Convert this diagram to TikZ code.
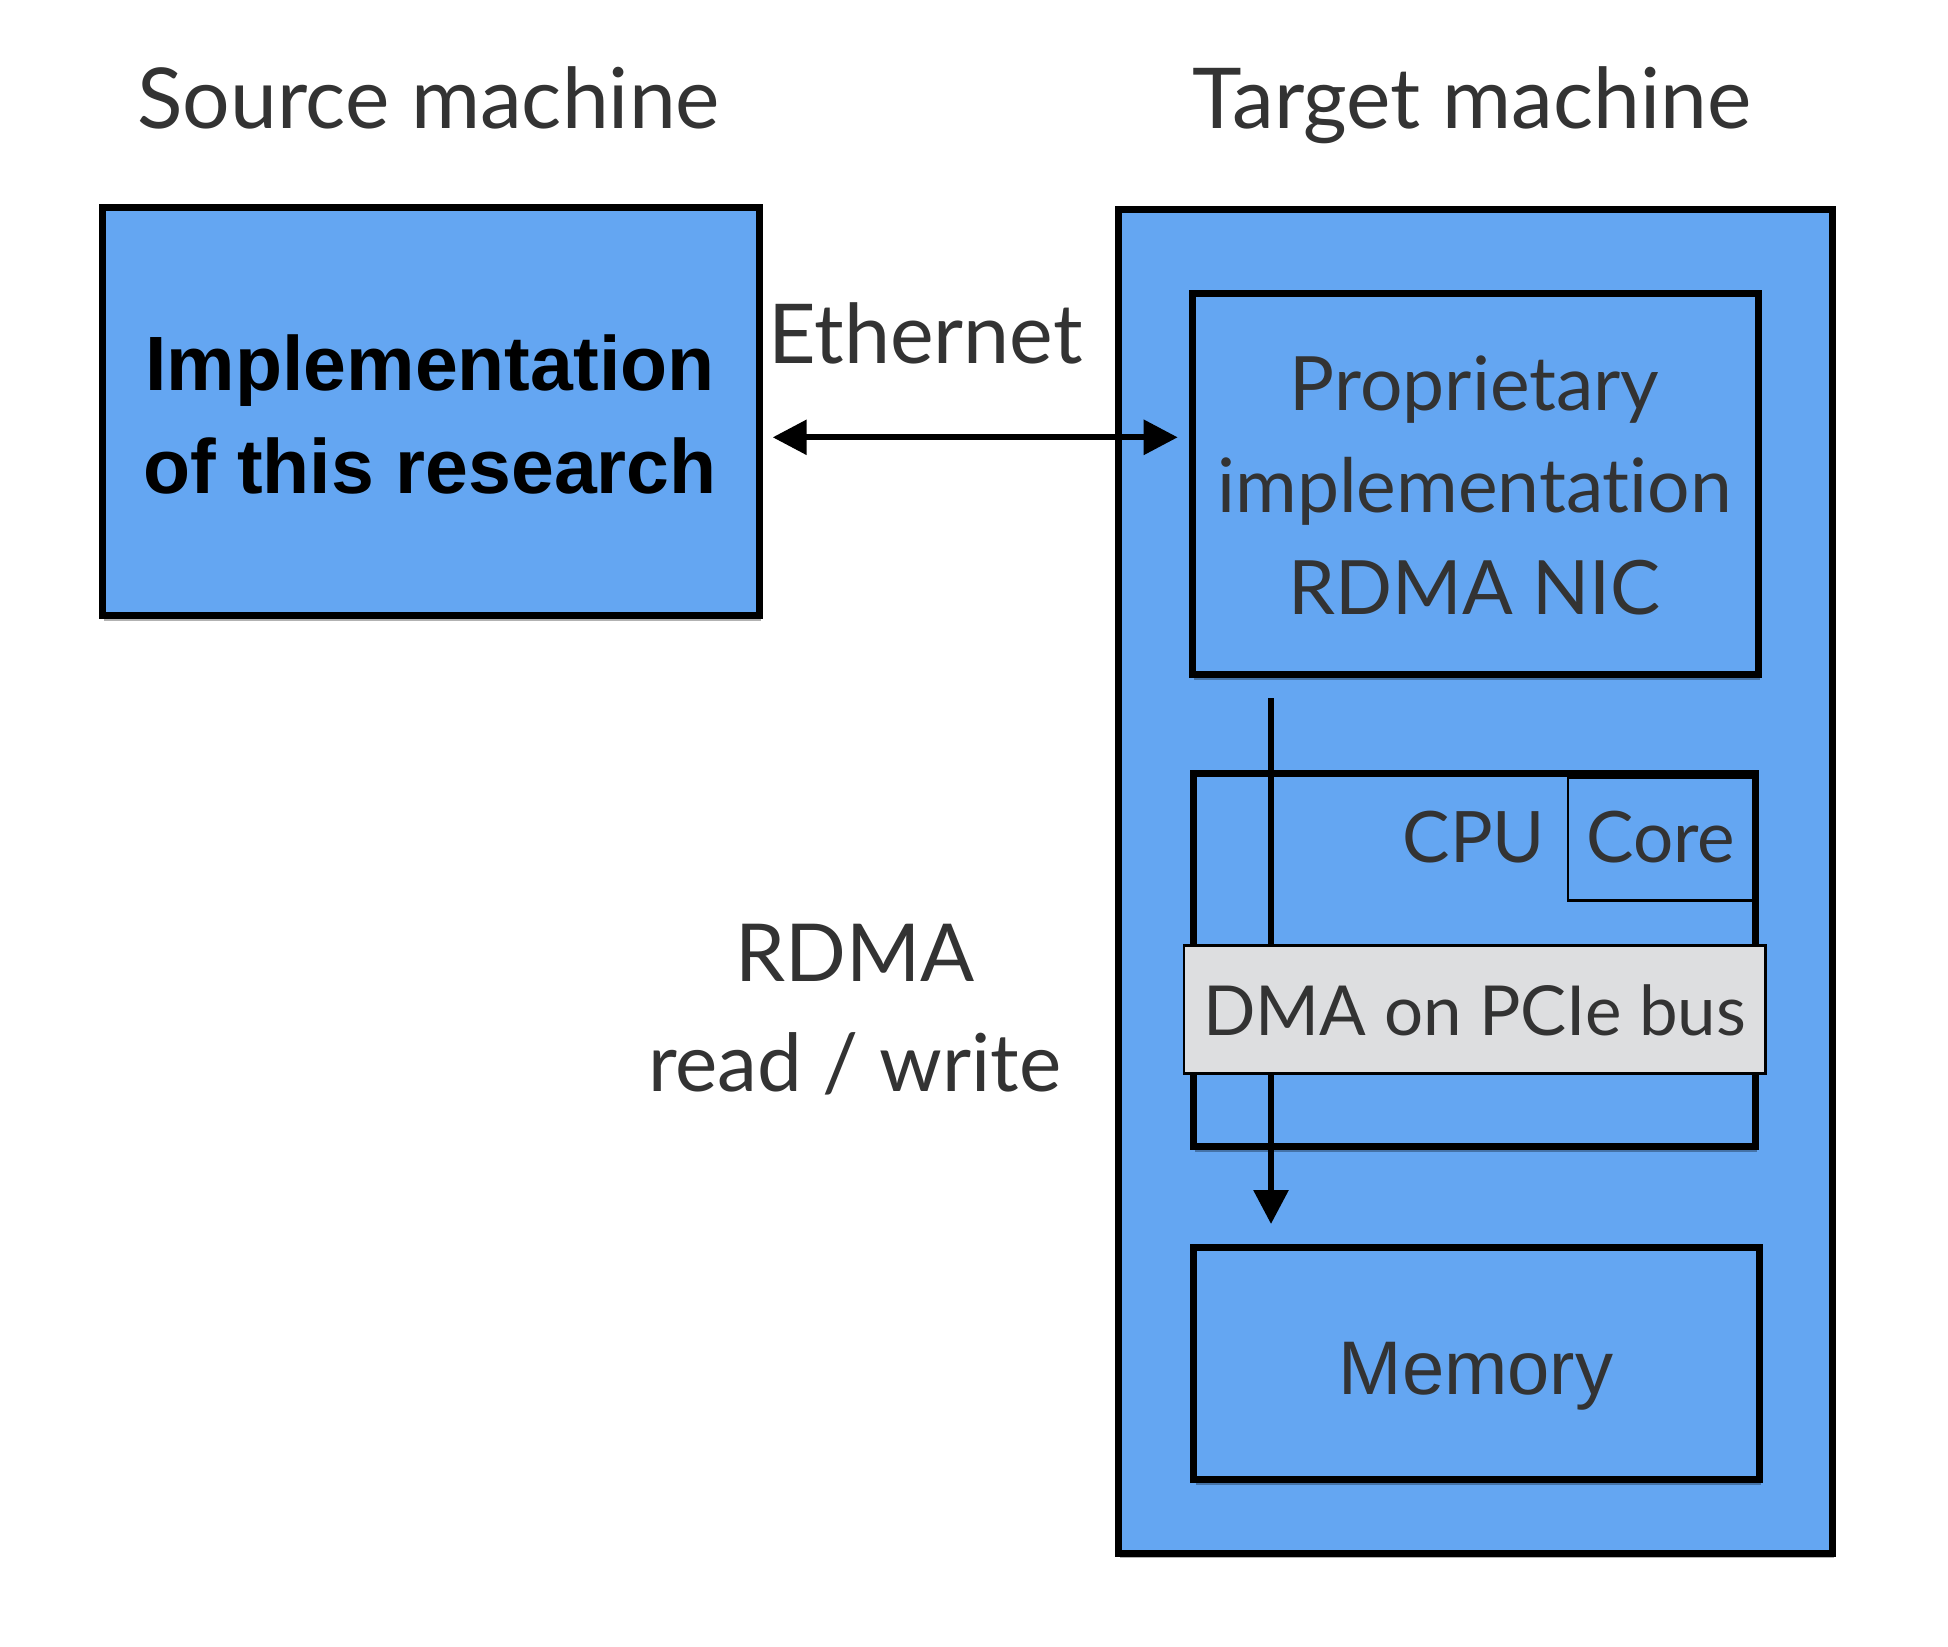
\documentclass[tikz,border=0pt]{standalone}
\usepackage{fontspec}
\setmainfont{Lato}[Ligatures={NoCommon}]
\newfontfamily\helv{Liberation Sans}
\usetikzlibrary{arrows.meta,shadows}
\definecolor{boxblue}{HTML}{64A6F2}
\definecolor{dmagray}{HTML}{DDDEE0}
\definecolor{txt}{HTML}{333333}
\begin{document}
\begin{tikzpicture}[x=0.5pt,y=-0.5pt,
  box/.style={draw=black, line width=3.5pt, fill=boxblue, inner sep=0pt, outer sep=0pt,
    drop shadow={shadow xshift=0.8pt, shadow yshift=-2.5pt, fill=black, opacity=0.3}},
  thinbox/.style={draw=black, line width=1.3pt, inner sep=0pt, outer sep=0pt},
  lbl/.style={anchor=base, inner sep=0pt, text=txt},
  conn/.style={line width=3pt, -{Triangle[length=17pt,width=17pt]}},
  dconn/.style={line width=3pt, {Triangle[length=17pt,width=17pt]}-{Triangle[length=17pt,width=17pt]}}]
\useasboundingbox[fill=white] (0,0) rectangle (1948,1646);

% headers
\node[lbl, font=\fontsize{42}{50}\selectfont] (srcT) at (428.6,128) {Source machine};
\node[lbl, font=\fontsize{42}{50}\selectfont] (tgtT) at (1472,128) {Target machine};

% source machine box
\node[box, minimum width=328.5pt, minimum height=204pt] (src) at (430.5,411.8) {};
\node[anchor=base, inner sep=0pt, font=\helv\bfseries\fontsize{38.5}{46}\selectfont] (srcL1) at (430,390) {Implementation};
\node[anchor=base, inner sep=0pt, font=\helv\bfseries\fontsize{38.5}{46}\selectfont] (srcL2) at (430,493) {of this research};

% target machine
\node[box, minimum width=357pt, minimum height=672pt] (tgt) at (1475,881) {};
\node[box, minimum width=282.7pt, minimum height=190.8pt] (nic) at (1475.3,484) {};
\node[lbl, font=\fontsize{37.5}{45}\selectfont] (nicL1) at (1474.6,410) {Proprietary};
\node[lbl, font=\fontsize{37.5}{45}\selectfont] (nicL2) at (1474.6,512) {implementation};
\node[lbl, font=\fontsize{37.5}{45}\selectfont] (nicL3) at (1474.6,614) {RDMA NIC};

\node[box, minimum width=280.8pt, minimum height=186.4pt] (cpu) at (1474.6,960.3) {};
\node[thinbox, minimum width=95pt, minimum height=61.5pt] (core) at (1662.9,839.2) {};
\node[lbl, font=\fontsize{35.5}{43}\selectfont] (cpuL) at (1474,862) {CPU};
\node[lbl, font=\fontsize{35.5}{43}\selectfont] (coreL) at (1661,862) {Core};

% DMA arrow
\coordinate (dmaS) at (1271,698);
\coordinate (dmaE) at (1271,1224);
\draw[conn] (dmaS) -- (dmaE);

\node[thinbox, fill=dmagray, minimum width=290.7pt, minimum height=64pt] (dma) at (1474.6,1009.4) {};
\node[lbl, font=\fontsize{34.5}{42}\selectfont] (dmaL) at (1474.6,1035) {DMA on PCIe bus};

\node[box, minimum width=282.6pt, minimum height=116pt] (mem) at (1476.5,1363.5) {};
\node[lbl, font=\helv\fontsize{38}{46}\selectfont] (memL) at (1476,1394) {Memory};

% Ethernet
\coordinate (ethL) at (772.7,437.3);
\coordinate (ethR) at (1177.7,437.3);
\draw[dconn] (ethL) -- (ethR);
\node[lbl, font=\fontsize{41.3}{49}\selectfont] (ethT) at (925.5,363) {Ethernet};

% RDMA label
\node[lbl, font=\fontsize{40}{48}\selectfont] (rdmaL1) at (854.7,981) {RDMA};
\node[lbl, font=\fontsize{40}{48}\selectfont] (rdmaL2) at (854.7,1091) {read / write};
\end{tikzpicture}
\end{document}
